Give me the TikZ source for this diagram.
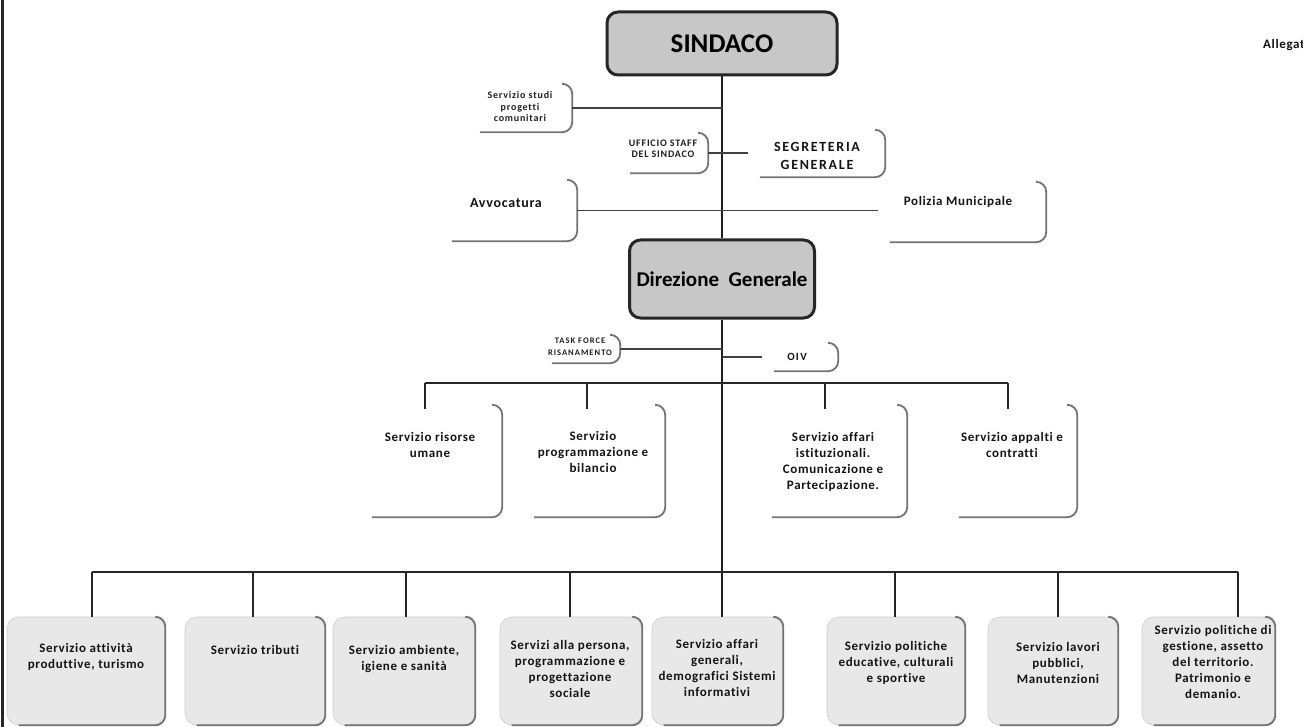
\documentclass[tikz,border=0pt]{standalone}
\usepackage{fontspec}
\setmainfont{Carlito}[Ligatures=NoCommon]
\newfontfamily\fA{Carlito}[LetterSpace=5,Ligatures=NoCommon]
\newfontfamily\fB{Carlito}[LetterSpace=8,Ligatures=NoCommon]
\newfontfamily\fC{Carlito}[LetterSpace=12,Ligatures=NoCommon]
\newcommand\shadowedge[1]{\draw[shedge] ([xshift=-9pt]#1.north east) -- (#1.north east) -- (#1.south east) -- ([xshift=12pt]#1.south west);}
\begin{document}
\begin{tikzpicture}[x=1pt,y=-1pt,
  mainline/.style={draw=black!88, line width=2.2pt},
  conn/.style={draw=black!75, line width=1.5pt},
  bar/.style={draw=black!85, line width=2pt},
  mainbox/.style={draw=black!85, line width=3pt, fill=black!22, rounded corners=11pt, inner sep=0},
  wbox/.style={draw=none, fill=white, inner sep=0},
  gbox/.style={draw=black!20, line width=0.6pt, fill=black!9, rounded corners=12pt, inner sep=0},
  shedge/.style={draw=black!55, line width=1.8pt, rounded corners=10pt},
  body/.style={font=\fA\bfseries\fontsize{13}{16}\selectfont, align=center, inner sep=0, text=black!92},
  tiny/.style={font=\fB\bfseries\fontsize{10}{11.5}\selectfont, align=center, inner sep=0, text=black!88},
  caps/.style={font=\fC\bfseries\fontsize{14}{18}\selectfont, align=center, inner sep=0, text=black!92},
]
\useasboundingbox (0,0) rectangle (1303,727);
\clip (0,0) rectangle (1303,727);
\fill[white] (0,0) rectangle (1303,727);
% left border
\draw[line width=3pt, black!85] (2.5,0) -- (2.5,727);

% ---------- boxes ----------
\node[mainbox, minimum width=230pt, minimum height=63pt, font=\bfseries\fontsize{27}{30}\selectfont] (sind) at (722,43.5) {SINDACO};
\node[mainbox, minimum width=185pt, minimum height=78pt, font=\bfseries\fontsize{21}{24}\selectfont] (dir) at (722,279) {Direzione\ \ Generale};

\node[wbox, minimum width=104pt, minimum height=48pt] (studi) at (520,108) {};
\node[wbox, minimum width=90pt, minimum height=40pt] (uff) at (663,153) {};
\node[wbox, minimum width=137pt, minimum height=47pt] (seg) at (816.5,153.5) {};
\node[wbox, minimum width=137pt, minimum height=61pt] (avv) at (508.5,210.5) {};
\node[wbox, minimum width=168pt, minimum height=60pt] (pol) at (962,212) {};
\node[wbox, minimum width=80pt, minimum height=28pt] (task) at (580,349) {};
\node[wbox, minimum width=76pt, minimum height=28pt] (oiv) at (800,357) {};

\node[wbox, minimum width=142pt, minimum height=112pt] (m1) at (431,461) {};
\node[wbox, minimum width=143pt, minimum height=112pt] (m2) at (593.5,461) {};
\node[wbox, minimum width=147pt, minimum height=112pt] (m3) at (833.5,461) {};
\node[wbox, minimum width=130pt, minimum height=112pt] (m4) at (1012,461) {};

\node[gbox, minimum width=158pt, minimum height=108pt] (b1) at (86,671) {};
\node[gbox, minimum width=140pt, minimum height=108pt] (b2) at (255,671) {};
\node[gbox, minimum width=142pt, minimum height=108pt] (b3) at (404,671) {};
\node[gbox, minimum width=142pt, minimum height=108pt] (b4) at (571,671) {};
\node[gbox, minimum width=131pt, minimum height=108pt] (b5) at (717.5,671) {};
\node[gbox, minimum width=138pt, minimum height=108pt] (b6) at (896,671) {};
\node[gbox, minimum width=130pt, minimum height=108pt] (b7) at (1053,671) {};
\node[gbox, minimum width=133pt, minimum height=108pt] (b8) at (1208.5,671) {};

\foreach \b in {studi,uff,seg,avv,pol,task,oiv,m1,m2,m3,m4,b1,b2,b3,b4,b5,b6,b7,b8}{\shadowedge{\b}}

% ---------- texts ----------
\node[tiny] (studit) at (520,107) {Servizio studi\\progetti\\comunitari};
\node[tiny] (ufft) at (663,149) {UFFICIO STAFF\\DEL SINDACO};
\node[caps] (segt) at (817,156) {SEGRETERIA\\GENERALE};
\node[body, font=\fA\bfseries\fontsize{14}{16}\selectfont] (avvt) at (506,203) {Avvocatura};
\node[body] (polt) at (958,202) {Polizia Municipale};
\node[tiny, font=\fC\bfseries\fontsize{8.5}{12}\selectfont] (taskt) at (580,347) {TASK FORCE\\RISANAMENTO};
\node[caps, font=\fC\bfseries\fontsize{11}{13}\selectfont] (oivt) at (797,357) {OIV};

\node[body] (m1t) at (430,445) {Servizio risorse\\umane};
\node[body] (m2t) at (593,452) {Servizio\\programmazione e\\bilancio};
\node[body] (m3t) at (833,462) {Servizio affari\\istituzionali.\\Comunicazione e\\Partecipazione.};
\node[body] (m4t) at (1012,445) {Servizio appalti e\\contratti};

\node[body] (b1t) at (86,657) {Servizio attività\\produttive, turismo};
\node[body] (b2t) at (255,650) {Servizio tributi};
\node[body] (b3t) at (404,659) {Servizio ambiente,\\igiene e sanità};
\node[body] (b4t) at (570,669) {Servizi alla persona,\\programmazione e\\progettazione\\sociale};
\node[body] (b5t) at (717,668) {Servizio affari\\generali,\\demografici Sistemi\\informativi};
\node[body] (b6t) at (896,663) {Servizio politiche\\educative, culturali\\e sportive};
\node[body] (b7t) at (1058,663) {Servizio lavori\\pubblici,\\Manutenzioni};
\node[body] (b8t) at (1213,662) {Servizio politiche di\\gestione, assetto\\del territorio.\\Patrimonio e\\demanio.};

\node[body, anchor=west, font=\fA\bfseries\fontsize{13}{15}\selectfont] (alleg) at (1263,45) {Allegato};

% ---------- connectors ----------
\draw[mainline] (sind.south) -- (dir.north);
\draw[mainline] (dir.south) -- (dir.south |- b5.north);
\draw[conn] (studi.east) -- (studi.east -| sind.south);
\draw[conn] (uff.east) -- (uff.east -| seg.west);
\draw[conn] (avv.east) -- (avv.east -| pol.west);
\draw[conn] (task.east) -- (task.east -| dir.south);
\draw[conn] (oiv.west -| dir.south) -- (oiv.west);

\coordinate (u1) at (425,383);
\coordinate (u2) at (587,383);
\coordinate (u3) at (825,383);
\coordinate (u4) at (1008,383);
\draw[bar] (u1) -- (u4);
\draw[bar] (u1) -- ([yshift=-4pt]u1 |- m1.north);
\draw[bar] (u2) -- ([yshift=-4pt]u2 |- m2.north);
\draw[bar] (u3) -- ([yshift=-4pt]u3 |- m3.north);
\draw[bar] (u4) -- ([yshift=-4pt]u4 |- m4.north);

\coordinate (l1) at (92,572);
\coordinate (l2) at (253,572);
\coordinate (l3) at (406,572);
\coordinate (l4) at (570,572);
\coordinate (l6) at (895,572);
\coordinate (l7) at (1058,572);
\coordinate (l8) at (1238,572);
\draw[bar] (l1) -- (l8);
\draw[bar] (l1) -- (l1 |- b1.north);
\draw[bar] (l2) -- (l2 |- b2.north);
\draw[bar] (l3) -- (l3 |- b3.north);
\draw[bar] (l4) -- (l4 |- b4.north);
\draw[bar] (l6) -- (l6 |- b6.north);
\draw[bar] (l7) -- (l7 |- b7.north);
\draw[bar] (l8) -- (l8 |- b8.north);
\end{tikzpicture}
\end{document}
